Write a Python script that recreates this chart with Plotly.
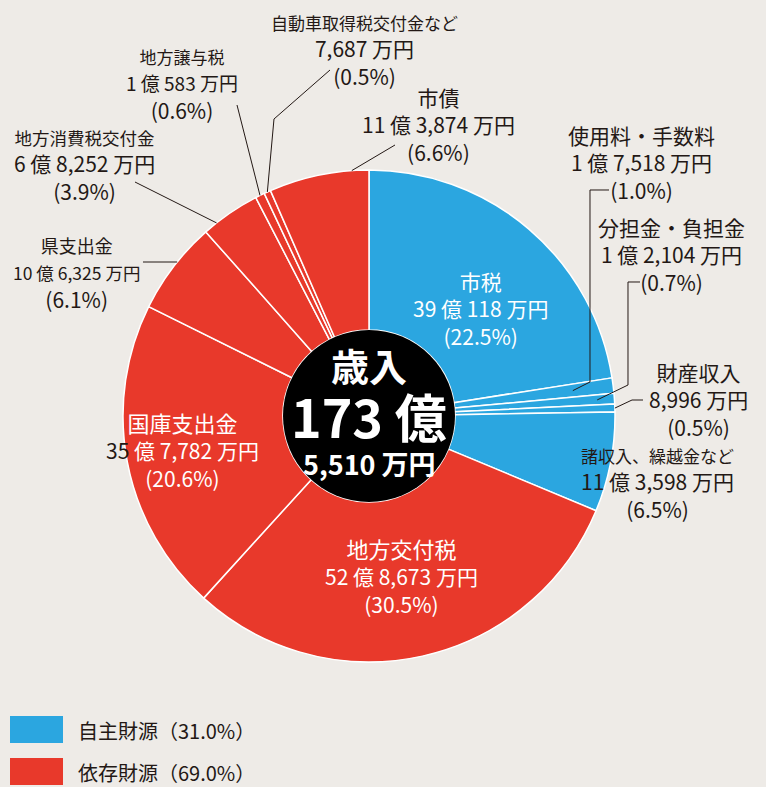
import math
import plotly.graph_objects as go

# ---------------- data ----------------
categories = ["市税", "使用料・手数料", "分担金・負担金", "財産収入", "諸収入、繰越金など",
              "地方交付税", "国庫支出金", "県支出金", "地方消費税交付金", "地方譲与税",
              "自動車取得税交付金など", "市債"]
values_man_yen = [391118, 17518, 12104, 8996, 113598,
                  528673, 357782, 106325, 68252, 10583, 7687, 113874]
amount_labels = ["39 億 118 万円", "1 億 7,518 万円", "1 億 2,104 万円", "8,996 万円", "11 億 3,598 万円",
                 "52 億 8,673 万円", "35 億 7,782 万円", "10 億 6,325 万円", "6 億 8,252 万円",
                 "1 億 583 万円", "7,687 万円", "11 億 3,874 万円"]
percent_labels = ["22.5%", "1.0%", "0.7%", "0.5%", "6.5%",
                  "30.5%", "20.6%", "6.1%", "3.9%", "0.6%", "0.5%", "6.6%"]
source_group = ["自主財源"] * 5 + ["依存財源"] * 7
group_names = ["自主財源", "依存財源"]
group_percents = ["31.0%", "69.0%"]
total_lines = ["歳入", "173 億", "5,510 万円"]

# ---------------- style ----------------
W, H = 766, 787
BG = "#eeebe7"
COLORS = {"自主財源": "#2ba6e0", "依存財源": "#e8392b"}
INK = "#231815"
FONT = "Noto Sans CJK JP"
CX, CY, R = 369, 416, 246          # pie centre / radius in pixels
HOLE_R = 86

def px(x):
    return x / W

def py(y):
    return 1 - y / H

# label placement: (x centre, y of middle line, name size, amount size, text colour)
label_pos = {
    "市税": (480, 309, 21, 21, "white"),
    "使用料・手数料": (641, 163, 21, 21, INK),
    "分担金・負担金": (671, 254, 21, 21, INK),
    "財産収入": (698, 399, 21, 21, INK),
    "諸収入、繰越金など": (657, 484, 17, 21, INK),
    "地方交付税": (401, 575, 22, 21, "white"),
    "国庫支出金": (182, 449, 22, 21, "white"),
    "県支出金": (76, 273, 18, 17.5, INK),
    "地方消費税交付金": (84, 166, 17.5, 21, INK),
    "地方譲与税": (182, 84, 17, 19, INK),
    "自動車取得税交付金など": (364, 50, 17, 21, INK),
    "市債": (438, 125, 21, 21, INK),
}
# leader lines: waypoints (pixels) from label, then slice anchor (fraction in slice, radius factor)
leaders = {
    "使用料・手数料": ([(609, 190), (590, 190), (590, 382)], 0.5, 0.835),
    "分担金・負担金": ([(640, 282), (628, 282), (628, 385)], 0.5, 0.93),
    "財産収入": ([(643, 400), (632, 400)], 0.5, 1.0),
    "県支出金": ([(143, 262)], 0.56, 1.0),
    "地方消費税交付金": ([(135, 182)], 0.23, 1.0),
    "地方譲与税": ([(237, 105)], 0.5, 1.0),
    "自動車取得税交付金など": ([(330, 70), (274, 119)], 0.5, 1.0),
    "市債": ([(395, 145)], 0.83, 1.0),
}

total = sum(values_man_yen)
fig = go.Figure()
fig.add_trace(go.Pie(
    labels=categories,
    values=values_man_yen,
    sort=False,
    direction="clockwise",
    rotation=0,
    hole=HOLE_R / R,
    marker=dict(colors=[COLORS[g] for g in source_group], line=dict(color="white", width=1.5)),
    textinfo="none",
    hoverinfo="label+value",
    showlegend=False,
    domain=dict(x=[px(CX - R), px(CX + R)], y=[py(CY + R), py(CY - R)]),
))

shapes = []
annotations = []

# black centre
shapes.append(dict(type="circle", xref="paper", yref="paper",
                   x0=px(CX - HOLE_R), x1=px(CX + HOLE_R), y0=py(CY + HOLE_R), y1=py(CY - HOLE_R),
                   fillcolor="black", line=dict(color="black", width=0)))

# leader lines computed from slice angles
cum = 0
for cat, v in zip(categories, values_man_yen):
    frac = v / total
    if cat in leaders:
        pts, anchor, k = leaders[cat]
        theta = math.radians(360 * (cum + frac * anchor))
        ex = CX + R * k * math.sin(theta)
        ey = CY - R * k * math.cos(theta)
        allpts = pts + [(ex, ey)]
        path = "M " + " L ".join(f"{px(x):.5f},{py(y):.5f}" for x, y in allpts)
        shapes.append(dict(type="path", xref="paper", yref="paper", path=path,
                           line=dict(color=INK, width=1)))
    cum += frac

# labels (one three-line annotation per slice)
for cat, amt, pct in zip(categories, amount_labels, percent_labels):
    x, y, nsize, asize, col = label_pos[cat]
    amt_text = amt
    if cat == "国庫支出金":
        head, rest = amt.split(" ", 1)
        amt_text = f"<span style='color:{INK}'>{head}</span> {rest}"
    text = (f"<span style='font-size:{nsize}px'>{cat}</span><br>"
            f"<span style='font-size:{asize}px'>{amt_text}</span><br>({pct})")
    annotations.append(dict(text=text, x=px(x), y=py(y), xref="paper", yref="paper",
                            xanchor="center", yanchor="middle", align="center", showarrow=False,
                            font=dict(family=FONT, size=21, color=col)))

# centre total
for t, yy, s in zip(total_lines, [364, 415, 463], [38, 52, 27]):
    annotations.append(dict(text=f"<b>{t}</b>", x=px(CX), y=py(yy), xref="paper", yref="paper",
                            xanchor="center", yanchor="middle", showarrow=False,
                            font=dict(family=FONT, size=s, color="white")))

# legend
for i, (g, p) in enumerate(zip(group_names, group_percents)):
    y0 = 716 + i * 42
    shapes.append(dict(type="rect", xref="paper", yref="paper",
                       x0=px(10), x1=px(63), y0=py(y0 + 27), y1=py(y0),
                       fillcolor=COLORS[g], line=dict(width=0)))
    annotations.append(dict(text=f"{g}（{p}）", x=px(76), y=py(y0 + 14), xref="paper", yref="paper",
                            xanchor="left", yanchor="middle", showarrow=False,
                            font=dict(family=FONT, size=20, color=INK)))

fig.update_layout(
    width=W, height=H,
    margin=dict(l=0, r=0, t=0, b=0),
    paper_bgcolor=BG, plot_bgcolor=BG,
    shapes=shapes, annotations=annotations,
    showlegend=False,
)

fig.write_html(
    "out.html",
    config={"displayModeBar": False},
    post_script="document.body.style.margin='0';document.body.style.overflow='hidden';"
                "document.documentElement.style.overflow='hidden';",
)
